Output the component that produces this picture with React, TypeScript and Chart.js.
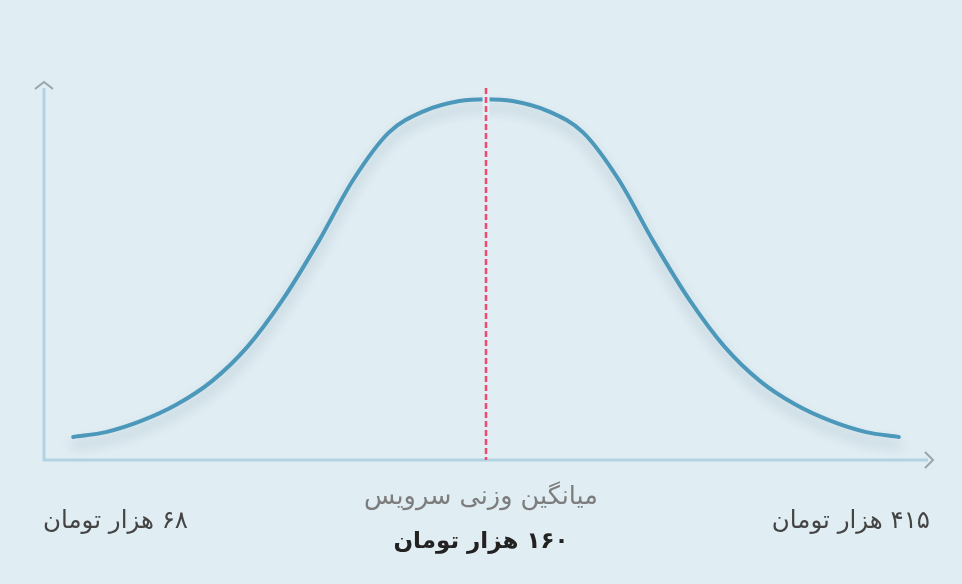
import { useEffect, useRef } from "react";
import { Chart, registerables } from "chart.js";

Chart.register(...registerables);

// curve points (x: 0-100 across the axis, y: 0-100 up the axis)
const curveX = [
  3.3, 7, 11, 15, 19, 23, 27, 31, 35, 39, 43, 47,
  50,
  53, 57, 61, 65, 69, 73, 77, 81, 85, 89, 93, 96.7,
];
const curveY = [
  6.2, 7.5, 10.5, 14.9, 21.2, 30.4, 43.1, 58.5, 75.4, 88.0, 93.8, 96.5,
  97.0,
  96.5, 93.8, 88.0, 75.4, 58.5, 43.1, 30.4, 21.2, 14.9, 10.5, 7.5, 6.2,
];
const meanX = 50;

const minLabel = "۶۸ هزار تومان";
const maxLabel = "۴۱۵ هزار تومان";
const meanTitle = "میانگین وزنی سرویس";
const meanLabel = "۱۶۰ هزار تومان";

const BG = "#e0edf3";
const FONT = "'DejaVu Sans', 'Noto Sans', sans-serif";

const axesPlugin = {
  id: "axesArrows",
  beforeDatasetsDraw(chart: Chart) {
    const { ctx, chartArea } = chart;
    const { left, right, top, bottom } = chartArea;
    ctx.save();
    // axis lines
    ctx.strokeStyle = "#b2d3e2";
    ctx.lineWidth = 3;
    ctx.beginPath();
    ctx.moveTo(left, top);
    ctx.lineTo(left, bottom);
    ctx.lineTo(right, bottom);
    ctx.stroke();
    // arrow heads
    ctx.strokeStyle = "#9aa5ac";
    ctx.lineWidth = 2;
    ctx.beginPath();
    ctx.moveTo(left - 9, top + 1);
    ctx.lineTo(left, top - 6);
    ctx.lineTo(left + 9, top + 1);
    ctx.moveTo(right - 3, bottom - 8);
    ctx.lineTo(right + 5, bottom);
    ctx.lineTo(right - 3, bottom + 8);
    ctx.stroke();
    ctx.restore();
  },
  beforeDatasetDraw(chart: Chart) {
    const { ctx } = chart;
    ctx.save();
    ctx.shadowColor = "rgba(40, 70, 90, 0.25)";
    ctx.shadowBlur = 12;
    ctx.shadowOffsetY = 8;
  },
  afterDatasetDraw(chart: Chart) {
    chart.ctx.restore();
  },
  afterDatasetsDraw(chart: Chart) {
    const { ctx, chartArea, scales } = chart;
    const x = scales.x.getPixelForValue(meanX);
    ctx.save();
    ctx.strokeStyle = BG;
    ctx.lineWidth = 7;
    ctx.beginPath();
    ctx.moveTo(x, chartArea.top + 2);
    ctx.lineTo(x, chartArea.bottom - 2);
    ctx.stroke();
    ctx.strokeStyle = "#f04b6e";
    ctx.lineWidth = 2.5;
    ctx.setLineDash([6, 3]);
    ctx.beginPath();
    ctx.moveTo(x, chartArea.top);
    ctx.lineTo(x, chartArea.bottom);
    ctx.stroke();
    ctx.restore();
  },
};

export default function App() {
  const canvasRef = useRef<HTMLCanvasElement | null>(null);
  const chartRef = useRef<Chart | null>(null);

  useEffect(() => {
    document.body.style.margin = "0";
    if (!canvasRef.current) return;
    if (chartRef.current) chartRef.current.destroy();

    chartRef.current = new Chart(canvasRef.current, {
      type: "line",
      data: {
        datasets: [
          {
            data: curveX.map((x, i) => ({ x, y: curveY[i] })),
            borderColor: "#4b98bb",
            borderWidth: 4,
            borderCapStyle: "round",
            pointRadius: 0,
            fill: false,
            cubicInterpolationMode: "monotone",
          },
        ],
      },
      options: {
        responsive: false,
        animation: false,
        layout: { padding: { left: 44, right: 34, top: 88, bottom: 124 } },
        plugins: { legend: { display: false }, tooltip: { enabled: false } },
        scales: {
          x: { type: "linear", min: 0, max: 100, display: false },
          y: { type: "linear", min: 0, max: 100, display: false },
        },
      },
      plugins: [axesPlugin],
    });

    return () => {
      if (chartRef.current) {
        chartRef.current.destroy();
        chartRef.current = null;
      }
    };
  }, []);

  const label = (extra: React.CSSProperties) => ({
    position: "absolute" as const,
    direction: "rtl" as const,
    fontFamily: FONT,
    whiteSpace: "nowrap" as const,
    ...extra,
  });

  return (
    <div style={{ position: "relative", width: 962, height: 584, background: BG, overflow: "hidden" }}>
      <canvas ref={canvasRef} width={962} height={584} style={{ position: "absolute", left: 0, top: 0 }} />
      <div style={label({ right: 962 - 188, top: 504, fontSize: 24.5, lineHeight: "32px", color: "#444" })}>{minLabel}</div>
      <div style={label({ right: 32, top: 504, fontSize: 24.5, lineHeight: "32px", color: "#444" })}>{maxLabel}</div>
      <div style={label({ left: 0, width: 962, textAlign: "center", top: 479, fontSize: 25.5, lineHeight: "32px", color: "#7d7d7d" })}>{meanTitle}</div>
      <div style={label({ left: 0, width: 962, textAlign: "center", top: 524, fontSize: 23, lineHeight: "32px", fontWeight: "bold", color: "#222" })}>{meanLabel}</div>
    </div>
  );
}
